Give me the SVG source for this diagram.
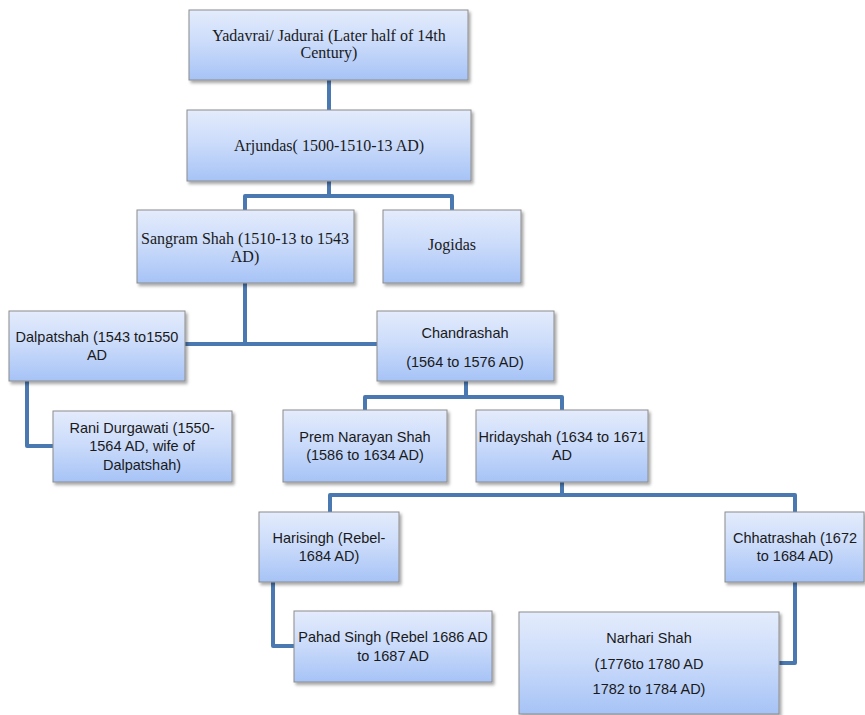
<svg xmlns="http://www.w3.org/2000/svg" width="865" height="715" viewBox="0 0 865 715">
<defs>
<linearGradient id="g" x1="0" y1="0" x2="0" y2="1">
<stop offset="0" stop-color="#e4ecfc"/>
<stop offset="0.5" stop-color="#c9dafa"/>
<stop offset="1" stop-color="#a6c3f6"/>
</linearGradient>
<filter id="sh" x="-10%" y="-10%" width="125%" height="130%">
<feDropShadow dx="2" dy="2.5" stdDeviation="1.5" flood-color="#000" flood-opacity="0.35"/>
</filter>
</defs>
<style>
.box{fill:url(#g);stroke:#8c8c8c;stroke-width:1;filter:url(#sh)}
.con{fill:none;stroke:#4a78b0;stroke-width:4;stroke-linejoin:round}
.serif{font-family:"Liberation Serif","Times New Roman",serif;font-size:16px;fill:#1a1a1a;text-anchor:middle}
.sans{font-family:"Liberation Sans",Arial,sans-serif;font-size:14.5px;fill:#1a1a1a;text-anchor:middle}
</style>
<rect width="865" height="715" fill="#ffffff"/>
<g id="connectors">
<path class="con" d="M329 80 V110"/>
<path class="con" d="M329 181 V196 M245 210 V196 H452 V210"/>
<path class="con" d="M245 283 V344 M185 344 H377"/>
<path class="con" d="M27 381 V446 H53"/>
<path class="con" d="M466 381 V397 M365 410 V397 H562 V410"/>
<path class="con" d="M562 482 V495 M330 512 V495 H795 V512"/>
<path class="con" d="M273 582 V646 H294"/>
<path class="con" d="M795 582 V663 H779"/>
</g>
<g id="yadavrai">
<rect class="box" x="189" y="10" width="279" height="70"/>
<text class="serif" x="329" y="41">Yadavrai/ Jadurai (Later half of 14th</text>
<text class="serif" x="329" y="58">Century)</text>
</g>
<g id="arjundas">
<rect class="box" x="187" y="110" width="284" height="71"/>
<text class="serif" x="329" y="151">Arjundas( 1500-1510-13 AD)</text>
</g>
<g id="sangram">
<rect class="box" x="137" y="210" width="217" height="73"/>
<text class="serif" x="245" y="244">Sangram Shah (1510-13 to 1543</text>
<text class="serif" x="245" y="262">AD)</text>
</g>
<g id="jogidas">
<rect class="box" x="383" y="210" width="138" height="73"/>
<text class="serif" x="452" y="250">Jogidas</text>
</g>
<g id="dalpatshah">
<rect class="box" x="9" y="311" width="176" height="70"/>
<text class="sans" x="97" y="342">Dalpatshah (1543 to1550</text>
<text class="sans" x="97" y="360">AD</text>
</g>
<g id="chandrashah">
<rect class="box" x="377" y="311" width="177" height="70"/>
<text class="sans" x="465" y="338">Chandrashah</text>
<text class="sans" x="465" y="367">(1564 to 1576 AD)</text>
</g>
<g id="durgawati">
<rect class="box" x="53" y="411" width="179" height="71"/>
<text class="sans" x="142" y="433">Rani Durgawati (1550-</text>
<text class="sans" x="142" y="451">1564 AD, wife of</text>
<text class="sans" x="142" y="470">Dalpatshah)</text>
</g>
<g id="premnarayan">
<rect class="box" x="283" y="410" width="164" height="72"/>
<text class="sans" x="365" y="442">Prem Narayan Shah</text>
<text class="sans" x="365" y="460">(1586 to 1634 AD)</text>
</g>
<g id="hridayshah">
<rect class="box" x="476" y="410" width="172" height="72"/>
<text class="sans" x="562" y="442">Hridayshah (1634 to 1671</text>
<text class="sans" x="562" y="460">AD</text>
</g>
<g id="harisingh">
<rect class="box" x="259" y="512" width="140" height="70"/>
<text class="sans" x="329" y="543">Harisingh (Rebel-</text>
<text class="sans" x="329" y="561">1684 AD)</text>
</g>
<g id="chhatrashah">
<rect class="box" x="725" y="512" width="139" height="70"/>
<text class="sans" x="795" y="543">Chhatrashah (1672</text>
<text class="sans" x="795" y="561">to 1684 AD)</text>
</g>
<g id="pahadsingh">
<rect class="box" x="294" y="611" width="198" height="71"/>
<text class="sans" x="393" y="642">Pahad Singh (Rebel 1686 AD</text>
<text class="sans" x="393" y="661">to 1687 AD</text>
</g>
<g id="narhari">
<rect class="box" x="519" y="612" width="260" height="102"/>
<text class="sans" x="649" y="643">Narhari Shah</text>
<text class="sans" x="649" y="669">(1776to 1780 AD</text>
<text class="sans" x="649" y="694">1782 to 1784 AD)</text>
</g>
</svg>
